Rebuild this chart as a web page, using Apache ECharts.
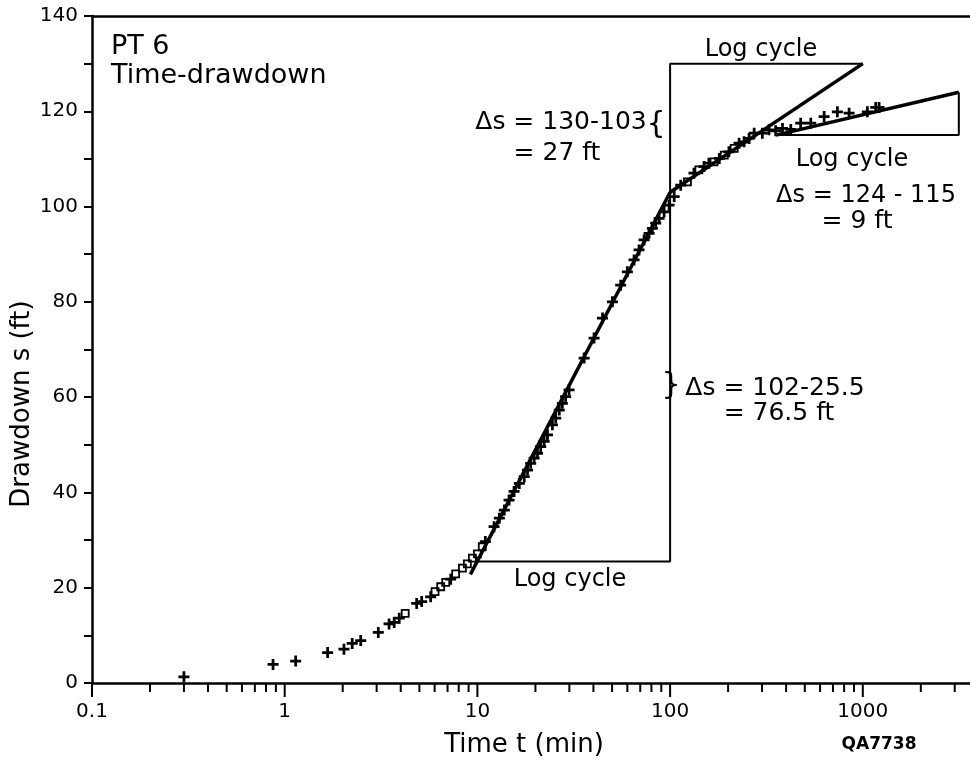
<!DOCTYPE html>
<html>
<head>
<meta charset="utf-8">
<script src="https://cdn.jsdelivr.net/npm/echarts@6/dist/echarts.min.js"></script>
<style>
  html, body { margin: 0; padding: 0; background: #fff; }
  #chart { width: 970px; height: 760px; }
</style>
</head>
<body>
<div id="chart"></div>
<script>
// Pumping test PT 6: drawdown s (ft) against elapsed time t (min)
const crossTime = [0.3, 0.87, 1.14, 1.67, 2.03, 2.24, 2.48, 3.06, 3.48, 3.7, 3.93, 4.84, 5.14, 5.72, 7.27,
  11.0, 12.2, 13.0, 13.8, 14.6, 15.5, 16.5, 17.5, 18.2, 18.9, 19.7, 20.5, 21.3, 22.2, 23.1, 24.5, 25.5,
  26.6, 27.6, 28.7, 29.9, 35.8, 40.3, 44.6, 50.2, 55.4, 60, 65, 69, 73.3, 77.8, 80.9, 84.2, 87.7, 93.1,
  98.8, 105, 113.5, 133, 150, 159, 180, 202, 228, 242, 257, 273, 301, 326, 353, 383, 423, 476, 537,
  630, 738, 849, 1056, 1167, 1215];
const crossDrawdown = [1.3, 3.9, 4.6, 6.4, 7.1, 8.3, 8.9, 10.6, 12.4, 12.7, 13.6, 16.7, 17.1, 18.1, 21.8,
  29.7, 32.8, 34.6, 36.3, 38.4, 40.2, 41.9, 43.3, 44.7, 46.1, 47.2, 48.2, 49.6, 50.7, 52.1, 54.2, 55.6,
  57.3, 58.7, 60.1, 61.5, 68.2, 72.4, 76.6, 80.0, 83.5, 86.3, 88.8, 90.9, 93.0, 94.4, 95.4, 96.5, 97.5, 98.9,
  100.3, 102.1, 104.5, 107.0, 108.4, 109.1, 110.1, 111.5, 113.3, 113.6, 114.3, 115.4, 115.4, 116.1, 115.9, 116.4, 116.2, 117.5, 117.5,
  118.9, 119.9, 119.6, 119.9, 120.8, 120.8];
const squareTime = [4.22, 6.03, 6.45, 6.85, 7.71, 8.36, 8.87, 9.42, 10, 10.6, 123, 141, 169, 191, 215];
const squareDrawdown = [14.6, 19.2, 20.2, 21.1, 22.9, 24.1, 25.0, 26.2, 27.1, 28.6, 105.2, 107.7, 109.4, 110.8, 112.2];

// Straight-line fits, one per log cycle
const earlyFitTime = [9.2, 100];
const earlyFitDrawdown = [22.8, 103];
const middleFitTime = [100, 1000];
const middleFitDrawdown = [103, 130];
const lateFitTime = [355, 3150];
const lateFitDrawdown = [115, 124];

// Log-cycle brackets
const cycleBracketTime = [10, 100, 100, 1000];
const cycleBracketDrawdown = [25.5, 25.5, 130, 130];
const lateBracketTime = [355, 3150, 3150];
const lateBracketDrawdown = [115, 115, 124];

// Time axis ticks
const majorTickTimes = [0.1, 1, 10, 100, 1000];
const minorTickTimes = [0.2, 0.3, 0.4, 0.5, 0.6, 0.7, 0.8, 0.9,
  2, 3, 4, 5, 6, 7, 8, 9,
  20, 30, 40, 50, 60, 70, 80, 90,
  200, 300, 400, 500, 600, 700, 800, 900,
  2000, 3000];
const timeTickLabels = ['0.1', '1', '10', '100', '1000'];

const zip = (xs, ys) => xs.map((x, i) => [x, ys[i]]);
const FONT = '"DejaVu Sans", "Liberation Sans", sans-serif';

function tickSeries(times, len) {
  return {
    type: 'custom',
    data: times.map(t => [t, 0]),
    clip: false,
    silent: true,
    z: 5,
    renderItem(params, api) {
      const p = api.coord([api.value(0), 0]);
      return {
        type: 'line',
        shape: { x1: p[0], y1: p[1], x2: p[0], y2: p[1] + len },
        style: { stroke: '#000', lineWidth: 2 }
      };
    }
  };
}

function fitLine(data, width) {
  return {
    type: 'line',
    data,
    symbol: 'none',
    silent: true,
    lineStyle: { color: '#000', width },
    z: 3
  };
}

function txt(text, x, y, size, align, extra) {
  return Object.assign({
    type: 'text',
    x, y,
    silent: true,
    style: {
      text,
      fill: '#000',
      font: size + 'px ' + FONT,
      align: align || 'center',
      verticalAlign: 'middle'
    }
  }, extra || {});
}

const chart = echarts.init(document.getElementById('chart'), null, { renderer: 'canvas' });

chart.setOption({
  animation: false,
  backgroundColor: '#fff',
  grid: { left: 92, right: 0, top: 16, bottom: 77, containLabel: false },
  xAxis: [{
    type: 'log',
    logBase: 10,
    min: 0.1,
    max: 3600,
    axisLine: { show: true, lineStyle: { color: '#000', width: 2.5 } },
    axisTick: { show: false },
    splitLine: { show: false },
    axisLabel: {
      color: '#000',
      fontFamily: FONT,
      fontSize: 20,
      margin: 19,
      showMaxLabel: false,
      formatter(v) {
        const idx = majorTickTimes.findIndex(t => Math.abs(Math.log10(t) - Math.log10(v)) < 1e-6);
        return idx >= 0 ? timeTickLabels[idx] : '';
      }
    }
  }, {
    type: 'log',
    position: 'top',
    min: 0.1,
    max: 3600,
    axisLine: { show: true, onZero: false, lineStyle: { color: '#000', width: 2.5 } },
    axisTick: { show: false },
    axisLabel: { show: false },
    splitLine: { show: false }
  }],
  yAxis: {
    type: 'value',
    min: 0,
    max: 140,
    interval: 20,
    axisLine: { show: true, lineStyle: { color: '#000', width: 2.5 } },
    axisTick: { show: true, length: 8, lineStyle: { color: '#000', width: 2 } },
    minorTick: { show: true, splitNumber: 2, length: 8, lineStyle: { color: '#000', width: 2 } },
    splitLine: { show: false },
    axisLabel: { color: '#000', fontFamily: FONT, fontSize: 20, margin: 14 }
  },
  series: [
    tickSeries(majorTickTimes, 14),
    tickSeries(minorTickTimes, 9),
    fitLine(zip(earlyFitTime, earlyFitDrawdown), 3.5),
    fitLine(zip(middleFitTime, middleFitDrawdown), 3.5),
    fitLine(zip(lateFitTime, lateFitDrawdown), 3.5),
    fitLine(zip(cycleBracketTime, cycleBracketDrawdown), 2),
    fitLine(zip(lateBracketTime, lateBracketDrawdown), 2),
    {
      type: 'scatter',
      data: zip(crossTime, crossDrawdown),
      symbol: 'path://M3.75,0L6.25,0L6.25,3.75L10,3.75L10,6.25L6.25,6.25L6.25,10L3.75,10L3.75,6.25L0,6.25L0,3.75L3.75,3.75Z',
      symbolSize: 11,
      itemStyle: { color: '#000', opacity: 1 },
      silent: true,
      z: 4
    },
    {
      type: 'scatter',
      data: zip(squareTime, squareDrawdown),
      symbol: 'rect',
      symbolSize: 7,
      itemStyle: { color: 'rgba(0,0,0,0)', borderColor: '#000', borderWidth: 1.8, opacity: 1 },
      silent: true,
      z: 4
    }
  ],
  graphic: [
    txt('PT 6', 111, 47, 27, 'left'),
    txt('Time-drawdown', 111, 76, 27, 'left'),
    txt('Log cycle', 761, 50, 24),
    txt('Δs = 130-103', 561, 122, 25),
    txt('{', 656, 125, 30),
    txt('= 27 ft', 557, 153, 25),
    txt('Log cycle', 852, 160, 24),
    txt('Δs = 124 - 115', 866, 196, 24),
    txt('= 9 ft', 857, 221, 25),
    txt('}', 671, 386, 30),
    txt('Δs = 102-25.5', 775, 388, 25),
    txt('= 76.5 ft', 779, 413, 25),
    txt('Log cycle', 570, 580, 24),
    txt('Time t (min)', 524, 745, 26),
    txt('Drawdown s (ft)', 22, 404, 26, 'center', { rotation: Math.PI / 2 }),
    {
      type: 'text', x: 879, y: 745, silent: true,
      style: { text: 'QA7738', fill: '#000', font: 'bold 17px ' + FONT, align: 'center', verticalAlign: 'middle' }
    }
  ]
});
</script>
</body>
</html>
